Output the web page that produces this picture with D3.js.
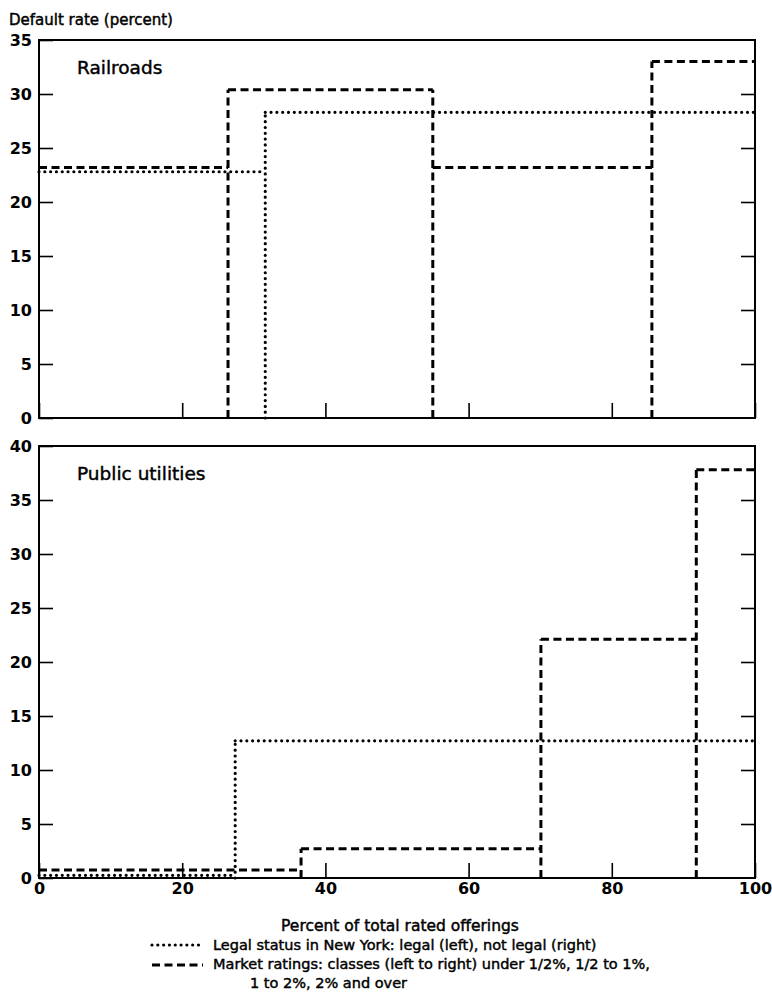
<!DOCTYPE html>
<html>
<head>
<meta charset="utf-8">
<script src="https://cdn.jsdelivr.net/npm/d3@7"></script>
<style>
  html, body { margin: 0; padding: 0; background: #fff; }
  svg { display: block; }
</style>
</head>
<body>
<script>
// Percent of total rated offerings (x) and default rate in percent (y)
const xTicks = [0, 20, 40, 60, 80, 100];
const railTicks = [0, 5, 10, 15, 20, 25, 30, 35];
const utilTicks = [0, 5, 10, 15, 20, 25, 30, 35, 40];

// Railroads: class boundaries (cumulative percent of offerings) and default rates
const railLegalBreaks = [0, 31.6, 100];
const railLegalRates = [22.8, 28.3];
const railMarketBreaks = [0, 26.4, 55.0, 85.6, 100];
const railMarketRates = [23.2, 30.4, 23.2, 33.0];

// Public utilities
const utilLegalBreaks = [0, 27.4, 100];
const utilLegalRates = [0.25, 12.7];
const utilMarketBreaks = [0, 36.6, 70.1, 91.8, 100];
const utilMarketRates = [0.75, 2.7, 22.1, 37.8];

const legendLines = [
  "Legal status in New York: legal (left), not legal (right)",
  "Market ratings: classes (left to right) under 1/2%, 1/2 to 1%,",
  "1 to 2%, 2% and over"
];

const W = 772, H = 993;
const FONT = "'DejaVu Sans', sans-serif";
const svg = d3.select("body").append("svg").attr("width", W).attr("height", H);

const x = d3.scaleLinear().domain([0, 100]).range([39, 755]);

const dashStyle = { width: 3, cap: "butt", array: "8,4.5" };
const dotStyle = { width: 3.2, cap: "round", array: "0.01,5.8" };

function styleLine(sel, kind) {
  const s = kind === "dash" ? dashStyle : dotStyle;
  return sel.attr("fill", "none").attr("stroke", "#000")
    .attr("stroke-width", s.width).attr("stroke-linecap", s.cap)
    .attr("stroke-dasharray", s.array);
}

// medium-weight caption text
function caption(sel, size) {
  return sel.attr("font-family", FONT).attr("font-size", size)
    .attr("fill", "#000").attr("stroke", "#000").attr("stroke-width", 0.45);
}

function numText(sel) {
  sel.attr("font-family", FONT).attr("font-size", 16)
    .attr("font-weight", "bold").attr("fill", "#000");
}

const panels = [
  { name: "Railroads", ticks: railTicks, yr: [418, 40], max: 35, showX: false,
    series: [
      { breaks: railLegalBreaks, rates: railLegalRates, style: "dot" },
      { breaks: railMarketBreaks, rates: railMarketRates, style: "dash" }
    ] },
  { name: "Public utilities", ticks: utilTicks, yr: [878, 446], max: 40, showX: true,
    series: [
      { breaks: utilLegalBreaks, rates: utilLegalRates, style: "dot" },
      { breaks: utilMarketBreaks, rates: utilMarketRates, style: "dash" }
    ] }
];

const line = d3.line().x(d => d[0]).y(d => d[1]);

// y-axis title
svg.append("text").attr("x", 9).attr("y", 25).call(caption, 15)
  .text("Default rate (percent)");

panels.forEach(p => {
  const y = d3.scaleLinear().domain([0, p.max]).range(p.yr);
  const g = svg.append("g");

  // left axis with inward ticks and labels
  const left = g.append("g").attr("transform", `translate(${x(0)},0)`)
    .call(d3.axisLeft(y).tickValues(p.ticks).tickSizeInner(-14).tickSizeOuter(0).tickPadding(7).tickFormat(d3.format("d")));
  left.select(".domain").remove();
  left.selectAll("line").attr("stroke", "#000").attr("stroke-width", 1.6);
  left.selectAll("text").call(numText);

  // right axis, ticks only
  const right = g.append("g").attr("transform", `translate(${x(100)},0)`)
    .call(d3.axisRight(y).tickValues(p.ticks.filter(t => t > 0 && t < p.max)).tickSizeInner(-14).tickSizeOuter(0).tickFormat(""));
  right.select(".domain").remove();
  right.selectAll("line").attr("stroke", "#000").attr("stroke-width", 1.6);

  // bottom axis, inward ticks
  const bottom = g.append("g").attr("transform", `translate(0,${y(0)})`)
    .call(d3.axisBottom(x).tickValues(xTicks).tickSizeInner(-15).tickSizeOuter(0).tickPadding(5)
      .tickFormat(p.showX ? d3.format("d") : ""));
  bottom.select(".domain").remove();
  bottom.selectAll("line").attr("stroke", "#000").attr("stroke-width", 1.6);
  bottom.selectAll("text").call(numText);

  // frame
  g.append("rect")
    .attr("x", x(0)).attr("y", y(p.max))
    .attr("width", x(100) - x(0)).attr("height", y(0) - y(p.max))
    .attr("fill", "none").attr("stroke", "#000").attr("stroke-width", 2);

  // panel title
  g.append("text").attr("x", 77).attr("y", y(p.max) + 34).call(caption, 18.5)
    .text(p.name);

  // step outlines: horizontal class levels plus boundaries rising from zero
  p.series.forEach(s => {
    const segs = [];
    s.rates.forEach((r, i) => {
      segs.push([[x(s.breaks[i]), y(r)], [x(s.breaks[i + 1]), y(r)]]);
    });
    for (let i = 1; i < s.breaks.length - 1; i++) {
      const top = Math.max(s.rates[i - 1], s.rates[i]);
      segs.push([[x(s.breaks[i]), y(0)], [x(s.breaks[i]), y(top)]]);
    }
    g.selectAll(null).data(segs).join("path")
      .attr("d", line)
      .call(styleLine, s.style);
  });
});

// x-axis title
svg.append("text").attr("x", 400).attr("y", 931).attr("text-anchor", "middle")
  .call(caption, 15.5)
  .text("Percent of total rated offerings");

// legend
const lg = svg.append("g");
[{ y: 945, style: "dot" }, { y: 965, style: "dash" }].forEach(s => {
  lg.append("path").attr("d", line([[152, s.y], [203, s.y]])).call(styleLine, s.style);
});
lg.selectAll("text").data(legendLines).join("text")
  .attr("x", (d, i) => i === 2 ? 250 : 213)
  .attr("y", (d, i) => 950 + i * 19)
  .call(caption, 14.5)
  .text(d => d);
</script>
</body>
</html>
